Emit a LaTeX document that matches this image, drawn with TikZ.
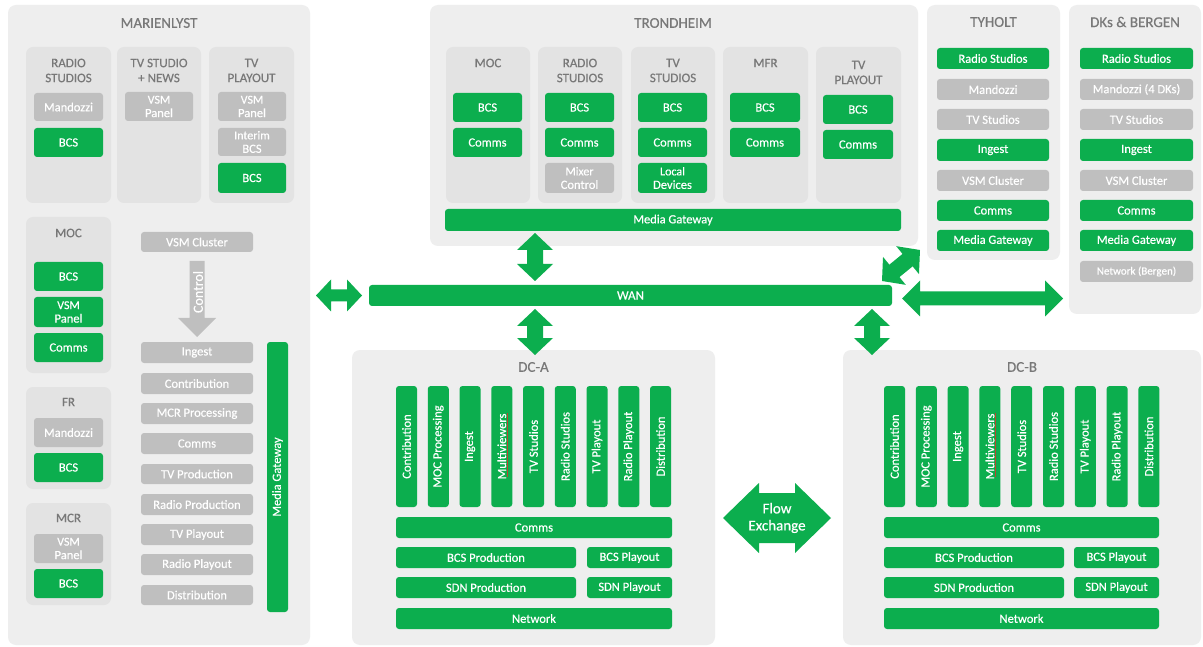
\documentclass[tikz,border=0pt]{standalone}
\usepackage{fontspec}
\setmainfont{Carlito}[FakeBold=0.45]
\usetikzlibrary{calc}

\definecolor{cgreen}{RGB}{12,174,78}
\definecolor{panelgray}{RGB}{238,238,238}
\definecolor{subgray}{RGB}{227,227,227}
\definecolor{boxgray}{RGB}{191,191,191}
\definecolor{titlegray}{RGB}{120,120,120}
\definecolor{squiggle}{RGB}{185,70,45}

\newcommand\fs[2]{\fontsize{#1}{#2}\selectfont}

\tikzset{
  base/.style={inner sep=0pt, outer sep=0pt, align=center},
  panel/.style={base, fill=panelgray, rounded corners=8pt},
  subpanel/.style={base, fill=subgray, rounded corners=7pt},
  gbox/.style={base, fill=cgreen, text=white, rounded corners=3pt, font=\fs{12.5}{13.5}},
  ybox/.style={base, fill=boxgray, text=white, rounded corners=3pt, font=\fs{12.5}{13.5}},
  ttl/.style={base, text=titlegray, font=\fs{15}{18}},
  sttl/.style={base, text=titlegray, font=\fs{13}{15}},
}

% box from its corners: style, name, x1, y1, x2, y2, text
\newcommand\blk[7]{\node[#1, minimum width={#5-#3}, minimum height={#6-#4}] (#2) at ({(#3+#5)/2},{(#4+#6)/2}) {#7};}
% upright bar with text running bottom to top
\newcommand\vblk[7]{\node[#1, rotate=90, minimum width={#6-#4}, minimum height={#5-#3}] (#2) at ({(#3+#5)/2},{(#4+#6)/2}) {#7};}

% two-headed block arrow: colour, from, to, head half-width, shaft half-width, head length
\newcommand\blockarrow[6]{%
  \fill[#1] let \p1=#2, \p2=#3, \n1={atan2(\y2-\y1,\x2-\x1)}, \n2={veclen(\x2-\x1,\y2-\y1)} in
    [shift={(\p1)}, rotate=\n1]
    (0pt,0pt) -- (#6pt,#4pt) -- (#6pt,#5pt) -- (\n2-#6pt,#5pt) -- (\n2-#6pt,#4pt) -- (\n2,0pt)
    -- (\n2-#6pt,-#4pt) -- (\n2-#6pt,-#5pt) -- (#6pt,-#5pt) -- (#6pt,-#4pt) -- cycle;}

\begin{document}
\begin{tikzpicture}[x=1pt,y=-1pt]
\fill[white] (0,0) rectangle (1203,647);
\useasboundingbox (0,0) rectangle (1203,647);

% ---------------- MARIENLYST ----------------
\blk{panel}{mar}{8}{5}{310}{645}{}
\node[ttl] (mar-t) at (159,23) {MARIENLYST};

\blk{subpanel}{mrs}{26}{47}{111}{203}{}
\node[sttl] (mrs-t) at (68.5,70.5) {RADIO\\STUDIOS};
\blk{ybox}{mrs-man}{34}{93}{103}{121}{Mandozzi}
\blk{gbox}{mrs-bcs}{34}{128}{103}{157}{BCS}

\blk{subpanel}{mtv}{117}{47}{201}{203}{}
\node[sttl] (mtv-t) at (159,70.5) {TV STUDIO\\+ NEWS};
\blk{ybox}{mtv-vsm}{125}{92}{193}{121}{\fs{12}{14}VSM\\Panel}

\blk{subpanel}{mpl}{209}{47}{294}{203}{}
\node[sttl] (mpl-t) at (251.5,70.5) {TV\\PLAYOUT};
\blk{ybox}{mpl-vsm}{218}{92}{286}{121}{\fs{12}{14}VSM\\Panel}
\blk{ybox}{mpl-ib}{218}{128}{286}{156}{\fs{12}{14}Interim\\BCS}
\blk{gbox}{mpl-bcs}{218}{163}{286}{193}{BCS}

\blk{subpanel}{mmoc}{26}{217}{111}{373}{}
\node[sttl] (mmoc-t) at (68.5,233) {MOC};
\blk{gbox}{mmoc-bcs}{34}{262}{103}{291}{BCS}
\blk{gbox}{mmoc-vsm}{34}{297}{103}{327}{\fs{12}{14}VSM\\Panel}
\blk{gbox}{mmoc-com}{34}{333}{103}{362}{Comms}

\blk{subpanel}{mfr}{26}{387}{111}{489}{}
\node[sttl] (mfr-t) at (68.5,402) {FR};
\blk{ybox}{mfr-man}{34}{418}{103}{447}{Mandozzi}
\blk{gbox}{mfr-bcs}{34}{453}{103}{482}{BCS}

\blk{subpanel}{mmcr}{26}{503}{111}{605}{}
\node[sttl] (mmcr-t) at (68.5,518) {MCR};
\blk{ybox}{mmcr-vsm}{34}{534}{103}{563}{\fs{12}{14}VSM\\Panel}
\blk{gbox}{mmcr-bcs}{34}{569}{103}{598}{BCS}

\blk{ybox}{vsmc}{141}{232}{253}{252}{VSM Cluster}
\blk{ybox}{ml1}{141}{342}{253}{363}{Ingest}
\blk{ybox}{ml2}{141}{373}{253}{394}{Contribution}
\blk{ybox}{ml3}{141}{403}{253}{424}{MCR Processing}
\blk{ybox}{ml4}{141}{433}{253}{454}{Comms}
\blk{ybox}{ml5}{141}{464}{253}{484}{TV Production}
\blk{ybox}{ml6}{141}{494}{253}{515}{Radio Production}
\blk{ybox}{ml7}{141}{524}{253}{545}{TV Playout}
\blk{ybox}{ml8}{141}{554}{253}{575}{Radio Playout}
\blk{ybox}{ml9}{141}{585}{253}{605}{Distribution}
\vblk{gbox}{mmg}{267}{342}{288}{612}{Media Gateway}

% control arrow from the VSM cluster down to the service list
\fill[boxgray] ($(vsmc.south)+(-7.5,9)$) -- ($(vsmc.south)+(7.5,9)$) -- ($(ml1.north)+(7.5,-24)$)
  -- ($(ml1.north)+(19,-24)$) -- ($(ml1.north)+(0,-5)$) -- ($(ml1.north)+(-19,-24)$)
  -- ($(ml1.north)+(-7.5,-24)$) -- cycle;
\node[base, rotate=90, text=white, font=\fs{14}{16}] (ctl) at ($(vsmc.south)+(1,40)$) {Control};

% ---------------- TRONDHEIM ----------------
\blk{panel}{tr}{430}{5}{918}{246}{}
\node[ttl] (tr-t) at (673,23) {TRONDHEIM};

\blk{subpanel}{tmoc}{446}{47}{530}{203}{}
\node[sttl] (tmoc-t) at (488,63) {MOC};
\blk{gbox}{tmoc-bcs}{453}{93}{522}{122}{BCS}
\blk{gbox}{tmoc-com}{453}{128}{522}{157}{Comms}

\blk{subpanel}{trs}{538}{47}{622}{203}{}
\node[sttl] (trs-t) at (580,70.5) {RADIO\\STUDIOS};
\blk{gbox}{trs-bcs}{545}{93}{614}{122}{BCS}
\blk{gbox}{trs-com}{545}{128}{614}{157}{Comms}
\blk{ybox}{trs-mix}{545}{163}{614}{193}{\fs{12}{14}Mixer\\Control}

\blk{subpanel}{ttv}{631}{47}{715}{203}{}
\node[sttl] (ttv-t) at (673,70.5) {TV\\STUDIOS};
\blk{gbox}{ttv-bcs}{638}{93}{707}{122}{BCS}
\blk{gbox}{ttv-com}{638}{128}{707}{157}{Comms}
\blk{gbox}{ttv-loc}{638}{163}{707}{193}{\fs{12}{14}Local\\Devices}

\blk{subpanel}{tmfr}{723}{47}{808}{203}{}
\node[sttl] (tmfr-t) at (765.5,63) {MFR};
\blk{gbox}{tmfr-bcs}{730}{93}{800}{122}{BCS}
\blk{gbox}{tmfr-com}{730}{128}{800}{157}{Comms}

\blk{subpanel}{tpl}{816}{47}{901}{203}{}
\node[sttl] (tpl-t) at (858.5,72.5) {TV\\PLAYOUT};
\blk{gbox}{tpl-bcs}{823}{95}{893}{124}{BCS}
\blk{gbox}{tpl-com}{823}{130}{893}{159}{Comms}

\blk{gbox}{trmg}{445}{209}{901}{231}{Media Gateway}

% ---------------- TYHOLT ----------------
\blk{panel}{ty}{927}{5}{1060}{260}{}
\node[ttl] (ty-t) at (993.5,22) {TYHOLT};
\blk{gbox}{ty1}{937}{48}{1049}{69}{Radio Studios}
\blk{ybox}{ty2}{937}{79}{1049}{100}{Mandozzi}
\blk{ybox}{ty3}{937}{109}{1049}{130}{TV Studios}
\blk{gbox}{ty4}{937}{139}{1049}{161}{Ingest}
\blk{ybox}{ty5}{937}{170}{1049}{191}{VSM Cluster}
\blk{gbox}{ty6}{937}{200}{1049}{221}{Comms}
\blk{gbox}{ty7}{937}{230}{1049}{251}{Media Gateway}

% ---------------- DKs & BERGEN ----------------
\blk{panel}{dk}{1069}{5}{1201}{314}{}
\node[ttl] (dk-t) at (1135,22) {DKs \& BERGEN};
\blk{gbox}{dk1}{1080}{48}{1193}{69}{Radio Studios}
\blk{ybox}{dk2}{1080}{79}{1193}{100}{Mandozzi (4 DKs)}
\blk{ybox}{dk3}{1080}{109}{1193}{130}{TV Studios}
\blk{gbox}{dk4}{1080}{139}{1193}{161}{Ingest}
\blk{ybox}{dk5}{1080}{170}{1193}{191}{VSM Cluster}
\blk{gbox}{dk6}{1080}{200}{1193}{221}{Comms}
\blk{gbox}{dk7}{1080}{230}{1193}{251}{Media Gateway}
\blk{ybox}{dk8}{1080}{261}{1193}{282}{\fs{11}{13}Network (Bergen)}

% ---------------- WAN ----------------
\blk{gbox}{wan}{369}{285}{892}{306}{\fs{13}{15}WAN}

% ---------------- DC-A ----------------
\blk{panel}{dca}{352}{350}{715}{645}{}
\node[ttl] (dca-t) at (533.5,367) {DC-A};
\foreach \lbl [count=\i from 0] in {Contribution,MOC Processing,Ingest,Multiviewers,TV Studios,Radio Studios,TV Playout,Radio Playout,Distribution}{
  \pgfmathsetmacro\xa{396+31.75*\i}
  \vblk{gbox}{dca\i}{\xa}{386}{\xa+21}{507}{\lbl}
}
\blk{gbox}{dca-com}{396}{517}{672}{538}{Comms}
\blk{gbox}{dca-bcsp}{396}{547}{576}{568}{BCS Production}
\blk{gbox}{dca-bcsl}{587}{547}{672}{568}{BCS Playout}
\blk{gbox}{dca-sdnp}{396}{577}{576}{598}{SDN Production}
\blk{gbox}{dca-sdnl}{587}{577}{672}{598}{SDN Playout}
\blk{gbox}{dca-net}{396}{608}{672}{629}{Network}
\draw[squiggle, line width=1pt] ($(dca3.center)+(5.5,-34)$) -- ($(dca3.center)+(5.5,30)$);

% ---------------- DC-B ----------------
\blk{panel}{dcb}{843}{350}{1201}{645}{}
\node[ttl] (dcb-t) at (1022,367) {DC-B};
\foreach \lbl [count=\i from 0] in {Contribution,MOC Processing,Ingest,Multiviewers,TV Studios,Radio Studios,TV Playout,Radio Playout,Distribution}{
  \pgfmathsetmacro\xa{884+31.8*\i}
  \vblk{gbox}{dcb\i}{\xa}{386}{\xa+21}{507}{\lbl}
}
\blk{gbox}{dcb-com}{884}{517}{1159}{538}{Comms}
\blk{gbox}{dcb-bcsp}{884}{547}{1064}{568}{BCS Production}
\blk{gbox}{dcb-bcsl}{1074}{547}{1159}{568}{BCS Playout}
\blk{gbox}{dcb-sdnp}{884}{577}{1064}{598}{SDN Production}
\blk{gbox}{dcb-sdnl}{1074}{577}{1159}{598}{SDN Playout}
\blk{gbox}{dcb-net}{884}{608}{1159}{629}{Network}
\draw[squiggle, line width=1pt] ($(dcb3.center)+(5.5,-34)$) -- ($(dcb3.center)+(5.5,30)$);

% ---------------- links ----------------
\blockarrow{cgreen}{($(wan.north -| dca.north)+(1.5,-4)$)}{($(trmg.south -| dca.north)+(1.5,2)$)}{18}{8}{17}
\blockarrow{cgreen}{($(wan.south -| dca.north)+(1.5,3)$)}{($(dca.north)+(1.5,5)$)}{18}{8}{17}
\blockarrow{cgreen}{($(wan.south east)+(-20,3)$)}{($(wan.south east |- dcb.north)+(-20,5)$)}{18}{8}{17}
\blockarrow{cgreen}{($(mar.east |- wan.center)+(6,0)$)}{($(wan.west)+(-7,0)$)}{16}{6}{15}
\blockarrow{cgreen}{($(wan.east)+(10,3)$)}{($(dk.west |- wan.east)+(-6,3)$)}{18}{7}{18}
\blockarrow{cgreen}{($(wan.north east)+(-10,-4)$)}{($(ty.south west)+(-7,-10)$)}{18}{8}{16}
\blockarrow{cgreen}{($(dca.east)+(8,20.5)$)}{($(dcb.west)+(-12,20.5)$)}{35}{25}{36}
\node[base, text=white, font=\fs{15}{17}] (flow) at ($(dca.east)!0.5!(dcb.west)+(-2,20.5)$) {Flow\\Exchange};

\end{tikzpicture}
\end{document}
